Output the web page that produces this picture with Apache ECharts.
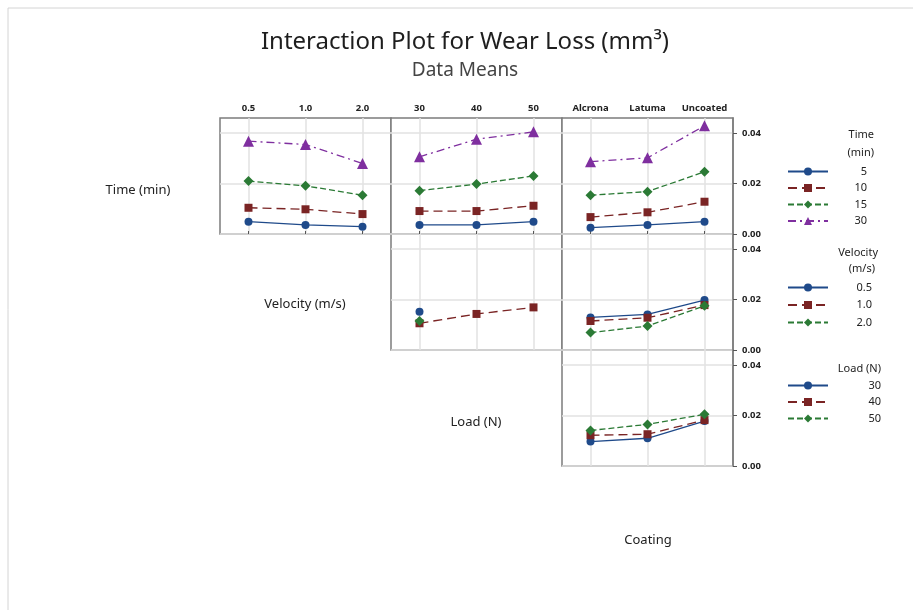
<!DOCTYPE html>
<html>
<head>
<meta charset="utf-8">
<script src="https://cdn.jsdelivr.net/npm/echarts@6/dist/echarts.min.js"></script>
<style>
html,body{margin:0;padding:0;background:#fff;}
#main{width:913px;height:610px;}
</style>
</head>
<body>
<div id="main"></div>
<script>
// factor levels
var timeLevels = ['5', '10', '15', '30'];
var velocityLevels = ['0.5', '1.0', '2.0'];
var loadLevels = ['30', '40', '50'];
var coatingLevels = ['Alcrona', 'Latuma', 'Uncoated'];
var yTicks = [0, 0.02, 0.04];

// means, one row per trace level
var timeVsVelocity = [
	[0.0049, 0.0036, 0.0029],
	[0.0104, 0.0098, 0.0079],
	[0.0210, 0.0191, 0.0154],
	[0.0368, 0.0355, 0.0280]
];
var timeVsLoad = [
	[0.0036, 0.0036, 0.0049],
	[0.0091, 0.0091, 0.0112],
	[0.0172, 0.0198, 0.0230],
	[0.0306, 0.0376, 0.0405]
];
var timeVsCoating = [
	[0.0025, 0.0036, 0.0049],
	[0.0067, 0.0086, 0.0128],
	[0.0154, 0.0168, 0.0247],
	[0.0287, 0.0302, 0.0429]
];
var velocityVsLoad = [
	[0.0152, null, null],
	[0.0106, 0.0143, 0.0169],
	[0.0115, null, null]
];
var velocityVsCoating = [
	[0.0129, 0.0141, 0.0198],
	[0.0115, 0.0128, 0.0178],
	[0.0069, 0.0095, 0.0175]
];
var loadVsCoating = [
	[0.0097, 0.0110, 0.0178],
	[0.0122, 0.0126, 0.0182],
	[0.0141, 0.0165, 0.0205]
];

var font = '"Noto Sans", "DejaVu Sans", sans-serif';
var colors = ['#1f4a8a', '#7a2424', '#2b7a35', '#7f2f9f'];
var symbols = ['circle', 'rect', 'diamond', 'triangle'];
var symbolSizes = [8, 8, 10, 11];
var dashes = ['solid', [9, 5], [6, 3], [8, 4, 2, 4]];

var colLeft = [220, 391, 562];
var rowTop = [118, 234, 350];
var panelW = 171, panelH = 116;

var panels = [
	{row: 0, col: 0, x: velocityLevels, factor: 'Time', levels: timeLevels, values: timeVsVelocity},
	{row: 0, col: 1, x: loadLevels, factor: 'Time', levels: timeLevels, values: timeVsLoad},
	{row: 0, col: 2, x: coatingLevels, factor: 'Time', levels: timeLevels, values: timeVsCoating},
	{row: 1, col: 1, x: loadLevels, factor: 'Velocity', levels: velocityLevels, values: velocityVsLoad},
	{row: 1, col: 2, x: coatingLevels, factor: 'Velocity', levels: velocityLevels, values: velocityVsCoating},
	{row: 2, col: 2, x: coatingLevels, factor: 'Load', levels: loadLevels, values: loadVsCoating}
];

var grids = [], xAxes = [], yAxes = [], series = [];
panels.forEach(function (p, i) {
	grids.push({
		left: colLeft[p.col], top: rowTop[p.row], width: panelW, height: panelH,
		show: true, borderColor: '#7c7c7c', borderWidth: 1.5, backgroundColor: '#fff'
	});
	xAxes.push({
		type: 'category', gridIndex: i, data: p.x, position: 'top', boundaryGap: true,
		axisLine: {show: false},
		axisTick: {show: p.row === 0, alignWithLabel: true, length: 3, lineStyle: {color: '#555'}},
		axisLabel: {show: p.row === 0, interval: 0, hideOverlap: false, fontSize: 9.5, fontWeight: 'bold', color: '#222', fontFamily: font, margin: 5},
		splitLine: {show: true, alignWithLabel: true, interval: 0, lineStyle: {color: '#e2e2e2', width: 1.5}}
	});
	yAxes.push({
		type: 'value', gridIndex: i, min: 0, max: 0.046, interval: 0.02, position: 'right',
		axisLine: {show: p.col === 2, lineStyle: {color: '#7c7c7c', width: 1.5}},
		axisTick: {show: p.col === 2, length: 4, customValues: yTicks, lineStyle: {color: '#555'}},
		axisLabel: {
			show: p.col === 2, customValues: yTicks, margin: 9,
			fontSize: 9.5, fontWeight: 'bold', color: '#222', fontFamily: font,
			formatter: function (v) { return v.toFixed(2); }
		},
		splitLine: {show: true, lineStyle: {color: '#e2e2e2', width: 1.5}}
	});
	p.levels.forEach(function (lv, k) {
		series.push({
			name: p.factor + ' ' + lv,
			type: 'line',
			xAxisIndex: i, yAxisIndex: i,
			data: p.values[k],
			symbol: symbols[k], symbolSize: symbolSizes[k], showSymbol: true,
			connectNulls: false,
			lineStyle: {color: colors[k], width: 1.3, type: dashes[k]},
			itemStyle: {color: colors[k]},
			emphasis: {disabled: true},
			animation: false
		});
	});
});

function legendFor(factor, levels, top, gap, textW) {
	return {
		orient: 'vertical', left: 782, top: top,
		itemWidth: 40, itemHeight: 10, itemGap: gap, selectedMode: false,
		data: levels.map(function (lv) { return factor + ' ' + lv; }),
		formatter: function (name) { return '{v|' + name.split(' ').pop() + '}'; },
		textStyle: {
			fontFamily: font, fontSize: 11, color: '#222',
			rich: {v: {width: textW, align: 'right', fontSize: 11, lineHeight: 12, color: '#222', fontFamily: font}}
		}
	};
}

function label(text, x, y, size, align) {
	return {
		type: 'text', x: x, y: y, silent: true,
		style: {text: text, align: align || 'center', verticalAlign: 'middle', font: size + 'px ' + font, fill: '#222'}
	};
}

var myChart = echarts.init(document.getElementById('main'));
var option = {
	backgroundColor: '#fff',
	animation: false,
	title: [
		{text: 'Interaction Plot for Wear Loss (mm³)', left: 460, top: 25, textAlign: 'center',
			textStyle: {fontSize: 24, fontWeight: 'normal', color: '#1e1e1e', fontFamily: font}},
		{text: 'Data Means', left: 460, top: 56, textAlign: 'center',
			textStyle: {fontSize: 19, fontWeight: 'normal', color: '#444', fontFamily: font}}
	],
	legend: [
		legendFor('Time', timeLevels, 161, 5.5, 34),
		legendFor('Velocity', velocityLevels, 277, 6.5, 39),
		legendFor('Load', loadLevels, 375, 5.5, 48)
	],
	grid: grids,
	xAxis: xAxes,
	yAxis: yAxes,
	series: series,
	graphic: [
		{type: 'rect', silent: true, shape: {x: 8, y: 8, width: 960, height: 660}, style: {fill: 'none', stroke: '#d4d4d4', lineWidth: 1}},
		label('Time (min)', 138, 190, 13),
		label('Velocity (m/s)', 305, 304, 13),
		label('Load (N)', 476, 422, 13),
		label('Coating', 648, 540, 13),
		label('Time', 874, 135, 11, 'right'),
		label('(min)', 874, 153, 11, 'right'),
		label('Velocity', 878, 253, 11, 'right'),
		label('(m/s)', 875, 269, 11, 'right'),
		label('Load (N)', 881, 369, 11, 'right')
	]
};
myChart.setOption(option);
</script>
</body>
</html>
